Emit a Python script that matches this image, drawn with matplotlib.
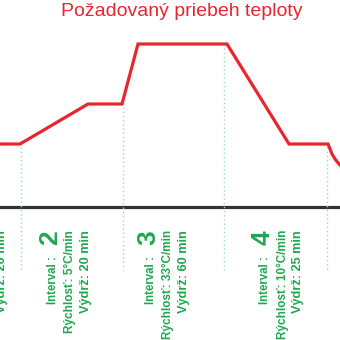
import matplotlib
matplotlib.use('Agg')
import matplotlib.pyplot as plt

# schematic temperature profile (x = time position, y = temperature level)
time_pts = [0, 20, 88, 122, 138, 227, 289, 328, 330, 332, 335, 339, 342]
temp_pts = [63, 63, 103, 103, 163, 163, 63, 63, 58, 53, 48, 43, 40]

# interval labels
interval_ids = [1, 2, 3, 4]
rates = [None, 5, 33, 10]          # °C/min
holds = [20, 20, 60, 25]           # min
hold_ends = [21, 123, 224, 327]    # where each hold finishes
hold_levels = [60, 100, 159, 60]

red = '#e8262d'
green = '#1fa84f'

fig = plt.figure(figsize=(3.4, 3.4), dpi=100)
ax = fig.add_axes([0, 0, 1, 1])
ax.set_xlim(0, 340)
ax.set_ylim(-133, 207)
ax.axis('off')

# baseline
ax.axhline(0, color='#333333', lw=2.3, zorder=1)

# dotted markers at the end of each hold
for x, lvl in zip(hold_ends, hold_levels):
    ax.plot([x, x], [lvl, -63], color='#9ed9bb', lw=1.0,
            linestyle=(0, (1, 2)), zorder=1)

ax.plot(time_pts, temp_pts, color=red, lw=2.3, solid_joinstyle='miter',
        zorder=3, clip_on=False)

ax.text(182, 196, 'Požadovaný priebeh teploty', color=red,
        fontsize=14, family='Liberation Sans', ha='center', va='center')

font = dict(color=green, family='Liberation Sans', weight='bold',
            rotation=90, ha='center', va='top')
digit_x = [-33, 50, 148, 263]
for i, num in enumerate(interval_ids):
    x0 = digit_x[i]
    ax.text(x0, -23, str(num), fontsize=19, **font)
    ax.text(x0 + 2.5, -49, 'Interval :', fontsize=8.3, **font)
    if rates[i] is not None:
        ax.text(x0 + 20, -23, f'Rýchlosť: {rates[i]}°C/min',
                fontsize=8.5, **font)
    ax.text(x0 + 35.5, -23, f'Výdrž: {holds[i]} min', fontsize=9.2, **font)

fig.savefig('out.png', dpi=100)
